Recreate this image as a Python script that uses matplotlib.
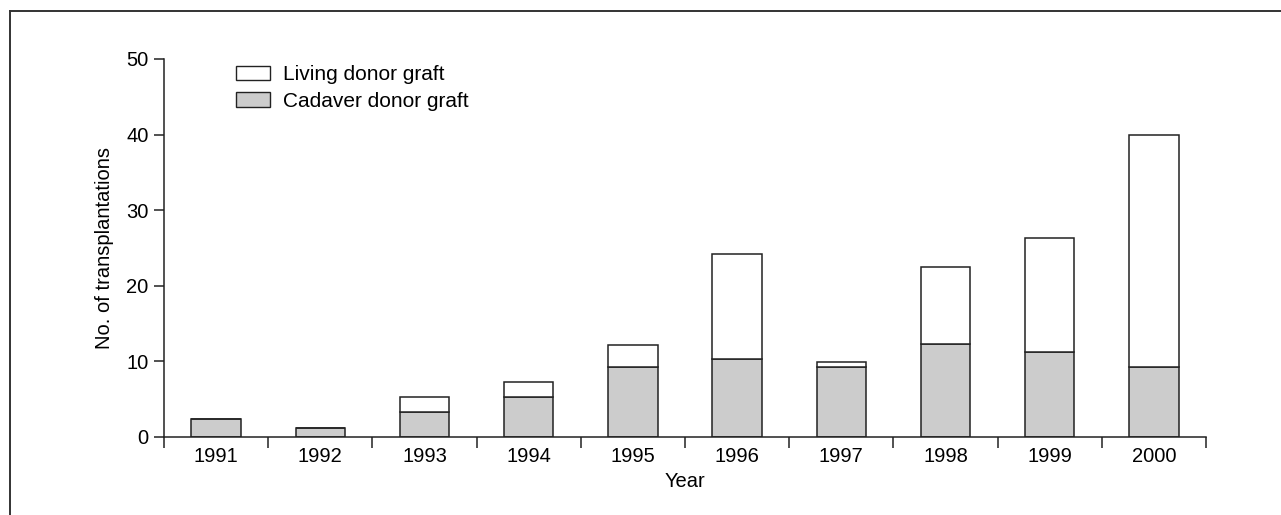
import matplotlib
matplotlib.use("Agg")
import matplotlib.pyplot as plt
from matplotlib.lines import Line2D
from matplotlib.patches import Patch
import numpy as np

plt.rcParams['font.family'] = ['Liberation Sans', 'DejaVu Sans']

years = ['1991', '1992', '1993', '1994', '1995', '1996', '1997', '1998', '1999', '2000']
cadaver = [2.3, 1.2, 3.3, 5.2, 9.2, 10.3, 9.2, 12.3, 11.2, 9.2]
totals = [2.3, 1.2, 5.3, 7.2, 12.2, 24.2, 9.95, 22.4, 26.3, 40.0]
living = [t - c for t, c in zip(totals, cadaver)]

W, H = 1281, 515
FS = 14.5
fig = plt.figure(figsize=(W / 100, H / 100), dpi=100)
ax = fig.add_axes([164 / W, (H - 436.7) / H, (1206 - 164) / W, (436.7 - 59) / H])

x = np.arange(len(years))
ec = '#222222'
lw = 1.1
ax.bar(x, cadaver, width=0.475, color='#cccccc', edgecolor=ec, linewidth=lw, zorder=2)
ax.bar(x, living, bottom=cadaver, width=0.475, color='white', edgecolor=ec, linewidth=lw, zorder=2)

ax.set_xlim(-0.5, len(years) - 0.5)
ax.set_ylim(0, 50)
for s in ['top', 'right']:
    ax.spines[s].set_visible(False)
for s in ['left', 'bottom']:
    ax.spines[s].set_color('#222222')
    ax.spines[s].set_linewidth(1.1)

ax.set_yticks([0, 10, 20, 30, 40, 50])
ax.tick_params(axis='y', direction='out', length=7, width=1.1, color='#222222', labelsize=FS, pad=4)
ax.set_xticks(x)
ax.set_xticklabels(years)
ax.tick_params(axis='x', which='major', length=0, labelsize=FS, pad=7.5)
ax.set_xticks(np.arange(-0.5, len(years), 1.0), minor=True)
ax.tick_params(axis='x', which='minor', direction='out', length=8, width=1.1, color='#222222')

ax.set_xlabel('Year', fontsize=FS, labelpad=4)
ax.set_ylabel('No. of transplantations', fontsize=FS, labelpad=9)

handles = [Patch(facecolor='white', edgecolor=ec, linewidth=1.0, label='Living donor graft'),
           Patch(facecolor='#cccccc', edgecolor=ec, linewidth=1.0, label='Cadaver donor graft')]
ax.legend(handles=handles, loc='upper left', bbox_to_anchor=(0.069, 0.984), frameon=False,
          fontsize=15, handlelength=1.63, handleheight=0.68, handletextpad=0.65, labelspacing=0.37,
          borderaxespad=0, borderpad=0)

# figure frame (top and left)
fig.add_artist(Line2D([10 / W, 10 / W], [0, 1 - 10.5 / H], color='#333333', linewidth=1.4, transform=fig.transFigure))
fig.add_artist(Line2D([10 / W, 1], [1 - 10.5 / H, 1 - 10.5 / H], color='#333333', linewidth=1.4, transform=fig.transFigure))

fig.savefig('out.png', dpi=100)
